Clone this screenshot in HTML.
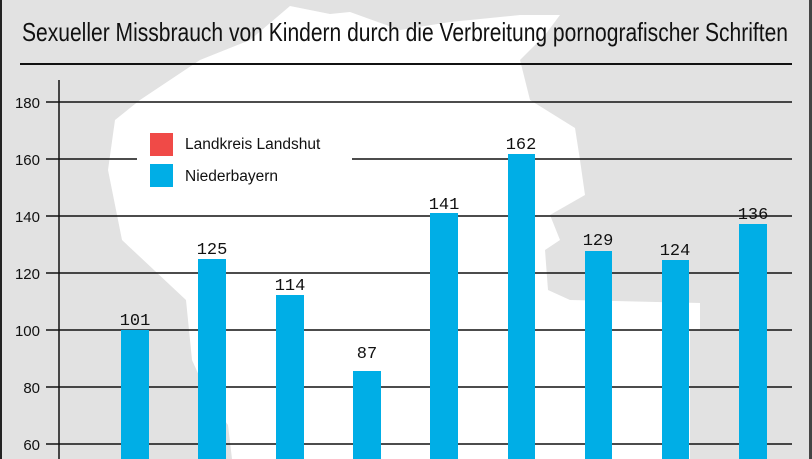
<!DOCTYPE html>
<html><head><meta charset="utf-8"><style>
html,body{margin:0;padding:0;background:#e2e2e2;}
svg{display:block}
</style></head><body>
<svg width="812" height="459" xmlns="http://www.w3.org/2000/svg">
<rect width="812" height="459" fill="#e2e2e2"/>
<polygon fill="#fff" points="290,6 330,14 350,12 400,30 450,22 520,15 560,15 545,35 520,60 530,100 575,128 580,160 585,195 550,215 560,240 545,250 548,290 570,300 700,303 700,330 690,330 690,459 232,459 228,425 210,400 192,360 186,300 122,240 108,170 115,120 140,100 200,60 250,40"/>
<rect x="0" y="0" width="2" height="459" fill="#222"/>
<rect x="809" y="0" width="3" height="459" fill="#444"/>
<text x="22" y="41" font-family="Liberation Sans, sans-serif" font-size="26" fill="#111" textLength="766" lengthAdjust="spacingAndGlyphs">Sexueller Missbrauch von Kindern durch die Verbreitung pornografischer Schriften</text>
<rect x="20" y="63" width="772" height="2" fill="#111"/>
<g stroke="#111" stroke-width="1.5">
<line x1="46" y1="102" x2="792" y2="102"/>
<line x1="46" y1="159" x2="137" y2="159"/><line x1="352" y1="159" x2="792" y2="159"/>
<line x1="46" y1="216" x2="792" y2="216"/>
<line x1="46" y1="273" x2="792" y2="273"/>
<line x1="46" y1="330" x2="792" y2="330"/>
<line x1="46" y1="387" x2="792" y2="387"/>
<line x1="46" y1="444" x2="792" y2="444"/>
<line x1="59" y1="80" x2="59" y2="459"/>
</g>
<g font-family="Liberation Sans, sans-serif" font-size="15" fill="#111" text-anchor="end">
<text x="40" y="108">180</text><text x="40" y="165">160</text><text x="40" y="222">140</text>
<text x="40" y="279">120</text><text x="40" y="336">100</text><text x="40" y="393">80</text><text x="40" y="450">60</text>
</g>
<rect x="150" y="133" width="23" height="23" fill="#f04a47"/>
<rect x="150" y="164" width="23" height="23" fill="#00aee6"/>
<g font-family="Liberation Sans, sans-serif" font-size="15.5" fill="#111">
<text x="185" y="149">Landkreis Landshut</text><text x="185" y="181">Niederbayern</text>
</g>
<g fill="#00aee6">
<rect x="121" y="330" width="28" height="129"/>
<rect x="198" y="259" width="28" height="200"/>
<rect x="276" y="295" width="28" height="164"/>
<rect x="353" y="371" width="28" height="88"/>
<rect x="430" y="213" width="28" height="246"/>
<rect x="508" y="154" width="27" height="305"/>
<rect x="585" y="251" width="27" height="208"/>
<rect x="662" y="260" width="27" height="199"/>
<rect x="739" y="224" width="28" height="235"/>
</g>
<g font-family="Liberation Mono, monospace" font-size="17" fill="#111" text-anchor="middle">
<text x="135" y="325">101</text><text x="212" y="254">125</text><text x="290" y="290">114</text>
<text x="367" y="358">87</text><text x="444" y="209">141</text><text x="521" y="149">162</text>
<text x="598" y="245">129</text><text x="675" y="255">124</text><text x="753" y="219">136</text>
</g>
</svg>
</body></html>
